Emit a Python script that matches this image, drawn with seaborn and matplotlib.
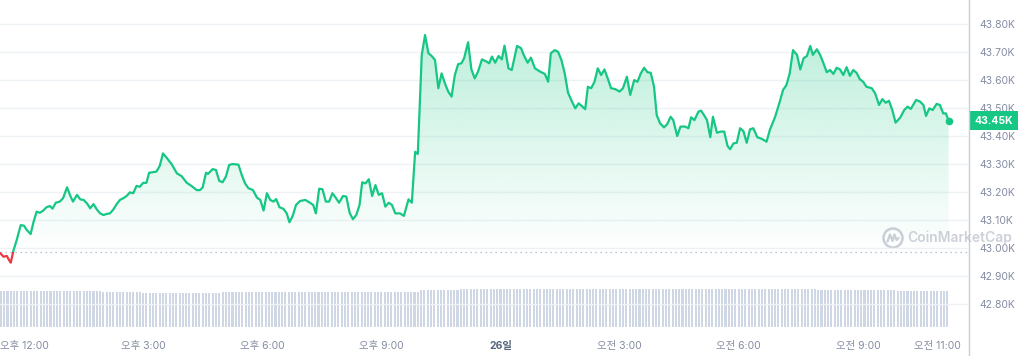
import numpy as np
import matplotlib
matplotlib.use("Agg")
import matplotlib.pyplot as plt
import matplotlib.transforms as mtransforms
from matplotlib.patches import Rectangle, Circle, Polygon
from matplotlib.lines import Line2D
import seaborn as sns

# minutes after 12:00 (25th), price in thousand USD
minutes = [-36, -31, -26, -24, -21, -20, -16, -11, -5, 0, 4, 10, 14, 19, 24, 29, 34, 39, 43, 48,
           54, 59, 65, 70, 74, 80, 85, 90, 95, 100, 105, 110, 115, 120, 125, 130, 135, 140, 145, 150,
           155, 160, 165, 170, 175, 180, 185, 189, 195, 200, 205, 210, 216, 223, 231, 238, 246, 253, 261, 266,
           270, 275, 278, 285, 290, 295, 300, 305, 310, 315, 324,
           329, 334, 339, 346, 352, 357, 362, 367, 372, 377, 381, 386, 392, 397, 401, 406, 411, 417, 425,
           432, 437, 441, 446, 451, 456, 461, 466, 471, 476, 482, 487, 492, 497, 502, 507, 511, 516, 521,
           526, 531, 536, 541, 546, 551, 556, 561, 568, 574, 581, 586, 591, 595, 601, 606, 611, 616, 621,
           626, 631, 636, 641, 646, 651, 656, 661, 665, 671, 676, 681, 686, 692,
           699, 703, 707, 712, 717, 722, 726, 732, 737, 745, 751, 755, 761, 766, 772, 780, 787, 792, 796,
           802, 807, 812, 817, 822, 828, 833, 838, 843, 848, 852, 857, 862, 867, 872, 877, 882, 887, 893,
           900, 905, 911, 916, 922, 927, 932, 937, 942, 947, 952, 956, 961, 967, 972, 977, 981, 987, 992,
           999, 1004, 1008, 1013, 1019, 1023, 1028, 1032, 1037, 1041, 1047, 1053, 1058, 1063, 1067, 1072,
           1077, 1082, 1087, 1092, 1097, 1102, 1108, 1115, 1122, 1127, 1135, 1142, 1147, 1152, 1157, 1162,
           1168, 1173, 1178, 1183, 1188, 1192, 1198, 1203, 1208, 1213, 1218, 1223, 1228, 1233, 1238, 1243,
           1248, 1253, 1258, 1263, 1268, 1273, 1281, 1286, 1292, 1297, 1302, 1307, 1312, 1317, 1324, 1330,
           1335, 1340, 1348, 1354, 1359, 1363, 1368, 1373, 1379, 1384, 1389, 1393, 1397]

price = [42.981, 42.968, 42.971, 42.962, 42.950, 42.947, 42.990, 43.028, 43.081, 43.079, 43.064, 43.049,
         43.089, 43.129, 43.125, 43.133, 43.145, 43.149, 43.140, 43.161, 43.165, 43.177, 43.216, 43.185,
         43.165, 43.189, 43.173, 43.171, 43.159, 43.141, 43.156, 43.137, 43.123, 43.117, 43.121, 43.123,
         43.137, 43.156, 43.171, 43.177, 43.185, 43.198, 43.195, 43.221, 43.218, 43.232, 43.232, 43.268,
         43.270, 43.272, 43.292, 43.337, 43.320, 43.299, 43.266, 43.256, 43.232, 43.221, 43.206, 43.206,
         43.216, 43.268, 43.264, 43.281, 43.278, 43.239, 43.234, 43.254, 43.296, 43.299, 43.297,
         43.260, 43.230, 43.213, 43.206, 43.179, 43.171, 43.133, 43.195, 43.171, 43.165, 43.174, 43.145,
         43.139, 43.123, 43.091, 43.114, 43.153, 43.167, 43.171, 43.161, 43.153, 43.123, 43.211, 43.209,
         43.165, 43.165, 43.195, 43.179, 43.161, 43.185, 43.183, 43.125, 43.102, 43.117, 43.153, 43.234,
         43.230, 43.245, 43.185, 43.224, 43.189, 43.195, 43.147, 43.161, 43.153, 43.123, 43.123, 43.114,
         43.173, 43.161, 43.343, 43.335, 43.689, 43.760, 43.695, 43.685, 43.671, 43.570, 43.623, 43.587,
         43.558, 43.540, 43.617, 43.656, 43.659, 43.677, 43.734, 43.637, 43.605, 43.629, 43.673,
         43.665, 43.659, 43.683, 43.661, 43.685, 43.673, 43.722, 43.641, 43.635, 43.721, 43.713, 43.689,
         43.661, 43.679, 43.641, 43.629, 43.621, 43.593, 43.695, 43.706, 43.700, 43.671, 43.623, 43.554,
         43.522, 43.498, 43.516, 43.506, 43.495, 43.575, 43.570, 43.593, 43.641, 43.617, 43.637, 43.605,
         43.570, 43.567, 43.558, 43.570, 43.611, 43.546, 43.599, 43.593, 43.623, 43.643, 43.627, 43.625,
         43.575, 43.474, 43.445, 43.430, 43.442, 43.468, 43.456, 43.399, 43.433, 43.433, 43.427, 43.466,
         43.456, 43.486, 43.490, 43.472, 43.456, 43.395, 43.468, 43.411, 43.415, 43.415, 43.364, 43.352,
         43.373, 43.375, 43.427, 43.417, 43.375, 43.423, 43.427, 43.395, 43.389, 43.379, 43.421, 43.468,
         43.522, 43.564, 43.581, 43.623, 43.706, 43.689, 43.637, 43.677, 43.685, 43.721, 43.689, 43.709,
         43.689, 43.659, 43.627, 43.635, 43.621, 43.643, 43.637, 43.617, 43.645, 43.614, 43.635, 43.625,
         43.602, 43.593, 43.575, 43.570, 43.552, 43.510, 43.531, 43.518, 43.525, 43.492, 43.447, 43.465,
         43.492, 43.504, 43.496, 43.528, 43.522, 43.510, 43.471, 43.498, 43.492, 43.514, 43.510, 43.480,
         43.480, 43.454]

open_price = 42.984

# volume level (billion USD) for each hour, from 11:00 to 11:00 next day
vol_level = [18.0, 18.0, 18.0, 17.5, 17.0, 17.0, 17.5, 17.5, 17.5, 17.5, 17.5, 18.5,
             19.0, 19.0, 19.0, 19.0, 19.0, 19.0, 19.0, 19.0, 19.0, 18.5, 18.5, 18.0, 18.0]

xtick_minutes = [0, 180, 360, 540, 720, 900, 1080, 1260, 1380]
xtick_labels = ["오후 12:00", "오후 3:00", "오후 6:00", "오후 9:00", "26일",
                "오전 3:00", "오전 6:00", "오전 9:00", "오전 11:00"]
ytick_values = [42.8, 42.9, 43.0, 43.1, 43.2, 43.3, 43.4, 43.5, 43.6, 43.7, 43.8]

green = "#16c784"
red = "#ea3943"
gray_txt = "#858ca2"

sns.set_theme(style="white")
plt.rcParams['font.family'] = ['Inter', 'Noto Sans CJK KR', 'DejaVu Sans']

W, H = 1018, 356
fig = plt.figure(figsize=(W / 100, H / 100), dpi=100)
ax = fig.add_axes([0, 22 / H, 968 / W, 334 / H])
xmin, xmax = -36.3, 1426.4
ytop = 43.885
ybot = ytop - 334 / 280
ax.set_xlim(xmin, xmax)
ax.set_ylim(ybot, ytop)

# volume bars on a twin axis
ax2 = ax.twinx()
vol_minutes = np.arange(-35, 1400, 5)
vol_values = [vol_level[(m + 60) // 60] for m in vol_minutes]
ax2.bar(vol_minutes, vol_values, width=3.1, color="#cfd6e4", linewidth=0)
ax2.set_ylim(-3.5, 163.5)
ax2.set_axis_off()
ax.set_zorder(ax2.get_zorder() + 1)
ax.patch.set_visible(False)
fig.patch.set_facecolor("white")

# gradient fill under the line, above the open price
px = np.array(minutes)
py = np.array(price)
verts = list(zip(px, np.maximum(py, open_price))) + [(px[-1], open_price), (px[0], open_price)]
poly = Polygon(verts, closed=True, facecolor="none", edgecolor="none", transform=ax.transData)
ax.add_patch(poly)
grad = np.zeros((256, 1, 4))
grad[:, 0, :3] = matplotlib.colors.to_rgb(green)
grad[:, 0, 3] = np.linspace(0.0, 0.30, 256)
img = ax.imshow(grad, extent=[xmin, xmax, open_price, 43.80], origin="lower",
                aspect="auto", interpolation="bilinear", zorder=1)
img.set_clip_path(poly)
ax.set_xlim(xmin, xmax)
ax.set_ylim(ybot, ytop)

# baseline (open price)
ax.axhline(open_price, color="#a6b0c3", linestyle=(0, (1, 3)), linewidth=0.9, zorder=2)

# price line: green above open, red below
sns.lineplot(x=minutes, y=price, ax=ax, color=green, linewidth=1.6, sort=False, zorder=3)
ax.lines[-1].set_clip_path(Rectangle((xmin, open_price), xmax - xmin, ytop - open_price,
                                     transform=ax.transData))
sns.lineplot(x=minutes, y=price, ax=ax, color=red, linewidth=1.6, sort=False, zorder=3)
ax.lines[-1].set_clip_path(Rectangle((xmin, ybot), xmax - xmin, open_price - ybot,
                                     transform=ax.transData))
ax.scatter([minutes[-1]], [price[-1]], s=30, color=green, zorder=4, linewidth=0)

# axes styling
ax.set_yticks(ytick_values)
ax.yaxis.tick_right()
ax.yaxis.set_major_formatter(plt.FuncFormatter(lambda v, p: f"{v:.2f}K"))
ax.tick_params(axis="y", length=0, pad=8, labelsize=7.5, labelcolor=gray_txt)
ax.set_xticks(xtick_minutes, xtick_labels)
ax.tick_params(axis="x", length=0, pad=5, labelsize=7.5, labelcolor=gray_txt)
lbl = ax.get_xticklabels()[4]
lbl.set_fontweight("bold")
lbl.set_color("#58667e")
ax.grid(axis="y", color="#eff2f5", linewidth=1)
ax.grid(axis="x", visible=False)
for s in ax.spines.values():
    s.set_visible(False)
ax.set_xlabel("")
ax.set_ylabel("")

# right divider line
fig.add_artist(Line2D([968.5 / W, 968.5 / W], [0, 1], transform=fig.transFigure,
                      color="#c9ced8", linewidth=1))

# current price tag
trans = mtransforms.blended_transform_factory(fig.transFigure, ax.transData)
last = price[-1]
ax.add_patch(Rectangle((969 / W, last - 9.5 / 280), 49 / W, 19 / 280, transform=trans,
                       facecolor=green, edgecolor="none", clip_on=False, zorder=5))
ax.text(993.5 / W, last, f"{last:.2f}K", transform=trans, ha="center", va="center",
        color="white", fontsize=7.5, fontweight="bold", clip_on=False, zorder=6)

# watermark
fig.text(907 / W, 1 - 238 / H, "CoinMarketCap", ha="left", va="center", fontsize=10,
         fontweight="semibold", color="#c3c8d1", alpha=0.85, zorder=10)
lax = fig.add_axes([882 / W, 1 - 249 / H, 22 / W, 22 / H])
lax.set_xlim(-1.1, 1.1)
lax.set_ylim(-1.1, 1.1)
lax.set_axis_off()
lax.add_patch(Circle((0, 0), 0.95, facecolor="none", edgecolor="#c3c8d1", linewidth=1.8, alpha=0.85))
lax.plot([-0.55, -0.3, -0.05, 0.15, 0.35, 0.55], [-0.35, 0.35, -0.3, 0.35, -0.2, 0.0],
         color="#c3c8d1", linewidth=1.6, alpha=0.85, solid_capstyle="round")

fig.savefig("out.png", dpi=100, facecolor="white")
